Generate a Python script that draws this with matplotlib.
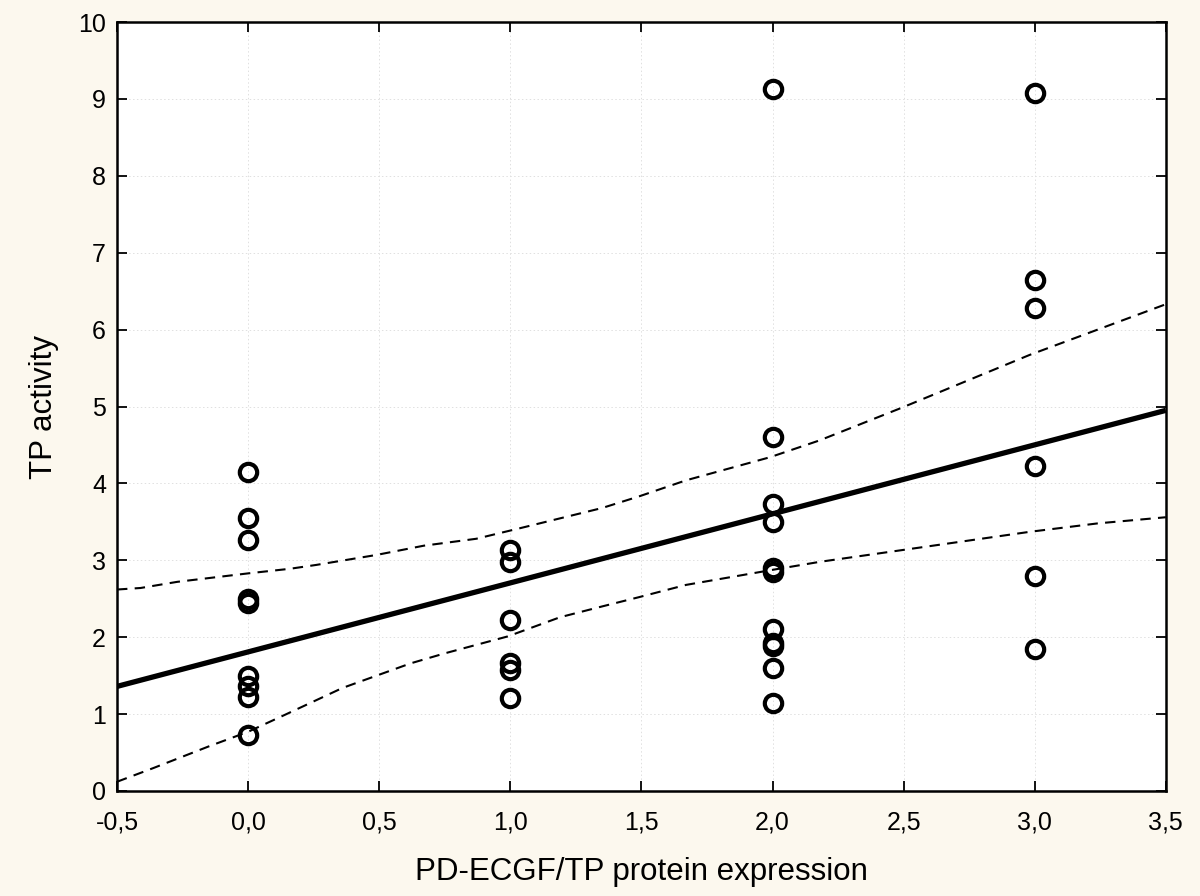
import matplotlib
matplotlib.use("Agg")
import matplotlib.pyplot as plt
from matplotlib.ticker import FixedLocator

# data
expr = [0, 0, 0, 0, 0, 0, 0, 0, 0,
        1, 1, 1, 1, 1, 1,
        2, 2, 2, 2, 2, 2, 2, 2, 2, 2, 2,
        3, 3, 3, 3, 3, 3]
tp_activity = [4.15, 3.55, 3.27, 2.50, 2.44, 1.50, 1.36, 1.22, 0.73,
               3.13, 2.98, 2.23, 1.67, 1.57, 1.21,
               9.13, 4.60, 3.73, 3.50, 2.90, 2.85, 2.11, 1.93, 1.89, 1.60, 1.14,
               9.08, 6.64, 6.28, 4.23, 2.80, 1.85]

fit_x = [-0.5, 3.5]
fit_y = [1.36, 4.95]

upper_x = [-0.5, -0.41, -0.27, 0.0, 0.16, 0.26, 0.49, 0.67, 0.87, 1.04,
           1.35, 1.49, 1.67, 1.99, 2.18, 2.49, 2.98, 3.24, 3.5]
upper_y = [2.62, 2.64, 2.72, 2.83, 2.89, 2.94, 3.07, 3.19, 3.28, 3.42,
           3.68, 3.83, 4.04, 4.34, 4.56, 4.98, 5.67, 6.00, 6.33]

lower_x = [-0.5, -0.36, -0.15, 0.0, 0.14, 0.36, 0.62, 0.75, 0.99, 1.19,
           1.35, 1.49, 1.67, 1.99, 2.18, 2.55, 2.98, 3.24, 3.5]
lower_y = [0.12, 0.30, 0.58, 0.77, 0.99, 1.34, 1.66, 1.79, 2.01, 2.26,
           2.40, 2.52, 2.68, 2.87, 2.98, 3.16, 3.37, 3.48, 3.56]

x_ticks = [-0.5, 0.0, 0.5, 1.0, 1.5, 2.0, 2.5, 3.0, 3.5]
x_tick_labels = ["-0,5", "0,0", "0,5", "1,0", "1,5", "2,0", "2,5", "3,0", "3,5"]
y_ticks = list(range(0, 11))

plt.rcParams["font.family"] = ["Liberation Sans", "DejaVu Sans"]

fig = plt.figure(figsize=(12, 8.96), dpi=100, facecolor="#fcf8ee")
ax = fig.add_axes([0.0975, 0.1172, 0.874, 0.8582])
ax.set_facecolor("white")

ax.grid(True, color="#e0e0e0", linestyle=(0, (1.5, 2.5)), linewidth=0.7, zorder=0)

ax.plot(upper_x, upper_y, color="black", lw=1.5, ls=(0, (5, 3.5)), zorder=2)
ax.plot(lower_x, lower_y, color="black", lw=1.5, ls=(0, (5, 3.5)), zorder=2)
ax.plot(fit_x, fit_y, color="black", lw=3.8, solid_capstyle="butt", zorder=3)
ax.plot(expr, tp_activity, ls="none", marker="o", ms=12.5, mfc="none",
        mec="black", mew=3.0, zorder=4, clip_on=False)

ax.set_xlim(-0.5, 3.5)
ax.set_ylim(0, 10)
ax.xaxis.set_major_locator(FixedLocator(x_ticks))
ax.set_xticklabels(x_tick_labels)
ax.set_yticks(y_ticks)

ax.tick_params(direction="in", length=7, width=1.3, labelsize=18,
               top=True, right=True)
ax.tick_params(axis="x", pad=14)
ax.tick_params(axis="y", pad=8)
for s in ax.spines.values():
    s.set_linewidth(1.8)

ax.set_xlabel("PD-ECGF/TP protein expression", fontsize=22.5, labelpad=16)
ax.set_ylabel("TP activity", fontsize=22.5, labelpad=14)

fig.savefig("out.png", dpi=100, facecolor=fig.get_facecolor())
